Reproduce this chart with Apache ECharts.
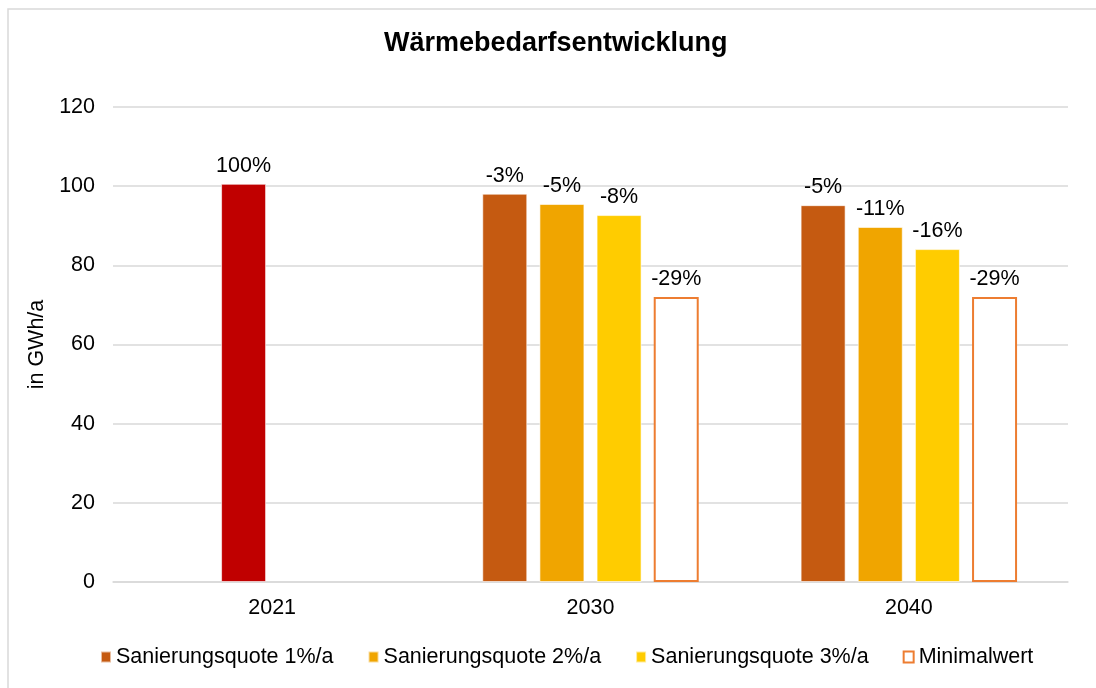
<!DOCTYPE html>
<html>
<head>
<meta charset="utf-8">
<script src="https://cdn.jsdelivr.net/npm/echarts@6/dist/echarts.min.js"></script>
<style>
  html, body { margin: 0; padding: 0; background: #fff; }
  #chart { width: 1096px; height: 688px; }
</style>
</head>
<body>
<div id="chart"></div>
<script>
const years = ["2021", "2030", "2040"];
const quote1 = [null, 98.1, 95.2];
const quote2 = [100.6, 95.5, 89.7];
const quote3 = [null, 92.7, 84.1];
const minimal = [null, 72.0, 72.0];
const labels1 = ["", "-3%", "-5%"];
const labels2 = ["100%", "-5%", "-11%"];
const labels3 = ["", "-8%", "-16%"];
const labelsMin = ["", "-29%", "-29%"];

const font = "Liberation Sans, Arial, sans-serif";
const fs = 21.5;

function barSeries(name, values, labels, color) {
  return {
    name: name,
    type: "bar",
    barWidth: 45,
    barGap: "27%",
    data: values,
    itemStyle: { color: color, borderColor: "rgba(255,255,255,0.6)", borderWidth: 1 },
    label: {
      show: true,
      position: "top",
      distance: 7,
      color: "#000",
      fontFamily: font,
      fontSize: fs,
      formatter: p => labels[p.dataIndex]
    }
  };
}

let s2 = barSeries("Sanierungsquote 2%/a", quote2, labels2, "#F0A500");
// 2021 Ausgangswert in rot
s2.data = quote2.map((v, i) => i === 0 ? { value: v, itemStyle: { color: "#C00000" } } : v);

let sMin = barSeries("Minimalwert", minimal, labelsMin, "#fff");
sMin.itemStyle = { color: "#fff", borderColor: "#ED7D31", borderWidth: 2 };

const option = {
  animation: false,
  backgroundColor: "#fff",
  textStyle: { fontFamily: font },
  graphic: [{
    type: "rect",
    shape: { x: 8, y: 9, width: 1100, height: 700 },
    style: { fill: "none", stroke: "#d9d9d9", lineWidth: 1.5 },
    silent: true
  }],
  title: {
    text: "Wärmebedarfsentwicklung",
    left: 379,
    top: 25,
    textStyle: { fontFamily: font, fontSize: 27, fontWeight: "bold", color: "#000" }
  },
  grid: { left: 113, right: 28, top: 107, bottom: 106 },
  legend: {
    bottom: 15,
    left: 95,
    icon: "rect",
    itemWidth: 10,
    itemHeight: 11,
    itemGap: 34,
    textStyle: { fontFamily: font, fontSize: fs, color: "#000" },
    data: ["Sanierungsquote 1%/a", "Sanierungsquote 2%/a", "Sanierungsquote 3%/a", "Minimalwert"]
  },
  xAxis: {
    type: "category",
    data: years,
    axisTick: { show: false },
    axisLine: { lineStyle: { color: "#d9d9d9", width: 1.5 } },
    axisLabel: { color: "#000", fontSize: fs, fontFamily: font, margin: 15 }
  },
  yAxis: {
    type: "value",
    min: 0,
    max: 120,
    interval: 20,
    name: "in GWh/a",
    nameLocation: "middle",
    nameGap: 56,
    nameTextStyle: { color: "#000", fontSize: fs, fontFamily: font },
    axisLabel: { color: "#000", fontSize: fs, fontFamily: font, margin: 18 },
    splitLine: { lineStyle: { color: "#d9d9d9", width: 1.5 } }
  },
  series: [
    barSeries("Sanierungsquote 1%/a", quote1, labels1, "#C55A11"),
    s2,
    barSeries("Sanierungsquote 3%/a", quote3, labels3, "#FFCC00"),
    sMin
  ]
};

echarts.init(document.getElementById("chart")).setOption(option);
</script>
</body>
</html>
